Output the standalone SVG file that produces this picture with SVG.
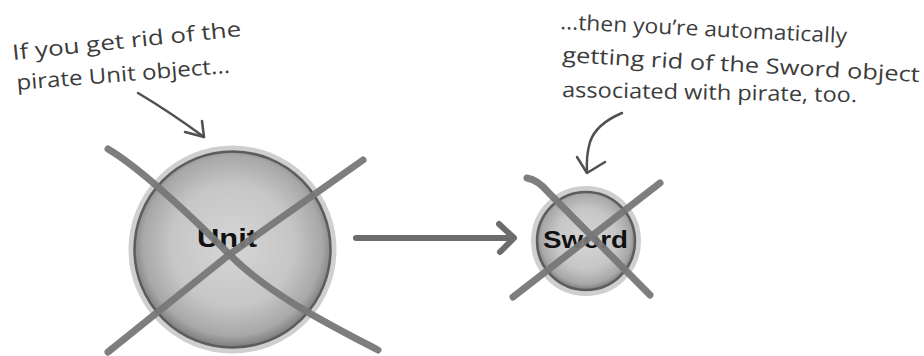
<svg xmlns="http://www.w3.org/2000/svg" width="924" height="356" viewBox="0 0 924 356">
  <style>
    .note { font-family: "Open Sans", "Noto Sans", "Liberation Sans", sans-serif; font-size: 21px; fill: #3c3c3c; }
    .label { font-family: "Liberation Sans", Arial, sans-serif; font-weight: bold; fill: #111111; }
    .halo { fill: none; stroke: #cfcfcf; stroke-width: 6; }
    .rim { stroke: #5c5c5c; stroke-width: 2.5; }
    .cross { fill: none; stroke: #777777; stroke-width: 7; stroke-linecap: round; stroke-linejoin: round; opacity: 0.95; }
    .pen { fill: none; stroke: #505050; stroke-width: 2.5; stroke-linecap: round; stroke-linejoin: round; }
    .conn { fill: none; stroke: #6c6c6c; stroke-width: 6; stroke-linecap: round; stroke-linejoin: round; }
  </style>
  <defs>
    <radialGradient id="ball" cx="50%" cy="48%" r="52%">
      <stop offset="0" stop-color="#d6d6d6"/>
      <stop offset="0.6" stop-color="#c6c6c6"/>
      <stop offset="0.88" stop-color="#a8a8a8"/>
      <stop offset="1" stop-color="#7c7c7c"/>
    </radialGradient>
  </defs>
  <rect width="924" height="356" fill="#ffffff"/>

  <g id="note-left">
    <text class="note" transform="translate(13,60) rotate(-6)" textLength="230" lengthAdjust="spacingAndGlyphs">If you get rid of the</text>
    <text class="note" transform="translate(17,90) rotate(-4.6)" textLength="214" lengthAdjust="spacingAndGlyphs">pirate Unit object...</text>
    <path class="pen" d="M138,93 Q170,112 204,137"/>
    <path class="pen" d="M202,121 L204,137 L185,132"/>
  </g>

  <g id="note-right">
    <text class="note" transform="translate(560,29) rotate(2.8)" textLength="287" lengthAdjust="spacingAndGlyphs">...then you’re automatically</text>
    <text class="note" transform="translate(562,62) rotate(3.2)" textLength="358" lengthAdjust="spacingAndGlyphs">getting rid of the Sword object</text>
    <text class="note" transform="translate(562,97) rotate(1)" textLength="295" lengthAdjust="spacingAndGlyphs">associated with pirate, too.</text>
    <path class="pen" d="M622,113 Q596,124 590,142 Q586,156 587,172"/>
    <path class="pen" d="M577,157 L587,173 L605,162"/>
  </g>

  <g id="node-unit">
    <circle class="halo" cx="232.5" cy="249.5" r="101"/>
    <circle class="rim" cx="232.5" cy="249.5" r="98" fill="url(#ball)"/>
    <text class="label" x="227" y="247" font-size="26" text-anchor="middle" textLength="60" lengthAdjust="spacingAndGlyphs">Unit</text>
    <path class="cross" d="M108,149 C140,168 190,215 230,255 S330,325 378,350"/>
    <path class="cross" d="M108,352 L230,254 L363,160"/>
  </g>

  <g id="node-sword">
    <circle class="halo" cx="586" cy="241" r="52"/>
    <circle class="rim" cx="586" cy="241" r="49" fill="url(#ball)"/>
    <text class="label" x="585.5" y="248" font-size="23" text-anchor="middle" textLength="85" lengthAdjust="spacingAndGlyphs">Sword</text>
    <path class="cross" d="M527,178 Q538,180 548,192 L650,295"/>
    <path class="cross" d="M513,297 L660,183"/>
  </g>

  <g id="connectors">
    <path class="conn" d="M356,238 L513,238"/>
    <path class="conn" d="M499,224 L514,238 L500,252"/>
  </g>
</svg>
